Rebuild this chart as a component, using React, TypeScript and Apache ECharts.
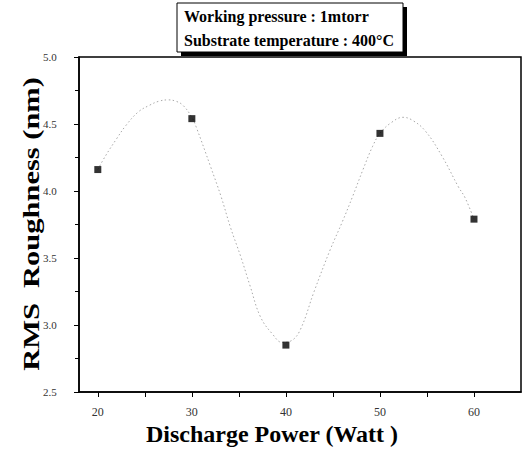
import React, { useEffect, useRef } from "react";
import * as echarts from "echarts";

const powerW = [20, 30, 40, 50, 60];
const roughnessNm = [4.16, 4.54, 2.85, 4.43, 3.79];

// fitted curve
const curveX = [20, 20.8, 22.0, 23.0, 24.3, 25.5, 26.5, 27.5, 28.3, 29.05, 30, 30.45, 32.0, 33.1, 34.1, 35.2, 36.2, 37.3, 38.6, 39.6, 40.5, 41.5, 43.0, 44.7, 46.0, 47.1, 48.2, 49.2, 50.0, 51.2, 52.45, 53.4, 54.8, 56.6, 58.35, 59.05, 60];
const curveY = [4.16, 4.26, 4.39, 4.49, 4.59, 4.64, 4.67, 4.68, 4.67, 4.64, 4.55, 4.48, 4.18, 3.96, 3.73, 3.51, 3.29, 3.06, 2.93, 2.87, 2.88, 2.96, 3.25, 3.56, 3.77, 3.96, 4.16, 4.33, 4.43, 4.51, 4.55, 4.53, 4.45, 4.26, 4.03, 3.95, 3.79];

const xLabelValues = [20, 30, 40, 50, 60];
const xTickValues = [20, 25, 30, 35, 40, 45, 50, 55, 60];
const legendLines = ["Working pressure : 1mtorr", "Substrate temperature : 400°C"];
const xTitle = "Discharge Power (Watt )";
const yTitle = "RMS  Roughness (nm)";

const SERIF = '"Liberation Serif", "Times New Roman", serif';

export default function App() {
  const ref = useRef<HTMLDivElement>(null);
  useEffect(() => {
    if (!ref.current) return;
    const chart = echarts.init(ref.current, null, { renderer: "svg" });
    chart.setOption({
      animation: false,
      backgroundColor: "#fff",
      grid: {
        left: 79,
        right: 7,
        top: 57,
        bottom: 59,
        show: true,
        borderColor: "#000",
        borderWidth: 1.5,
        backgroundColor: "transparent",
      },
      xAxis: {
        type: "value",
        min: 18,
        max: 65,
        splitLine: { show: false },
        axisLine: { show: true, lineStyle: { color: "#000", width: 1.5 } },
        axisTick: {
          show: true,
          inside: false,
          length: 5,
          customValues: xTickValues,
          lineStyle: { color: "#000" },
        },
        axisLabel: {
          customValues: xLabelValues,
          margin: 14,
          fontFamily: SERIF,
          fontSize: 12,
          color: "#333",
        },
      },
      yAxis: {
        type: "value",
        min: 2.5,
        max: 5,
        interval: 0.5,
        splitLine: { show: false },
        axisLine: { show: true, lineStyle: { color: "#000", width: 1.5 } },
        axisTick: { show: true, inside: false, length: 5, lineStyle: { color: "#000" } },
        minorTick: { show: true, splitNumber: 2, length: 4, lineStyle: { color: "#000" } },
        axisLabel: {
          margin: 36,
          align: "left",
          fontFamily: SERIF,
          fontSize: 11,
          color: "#333",
          formatter: (v: number) => v.toFixed(1),
        },
      },
      series: [
        {
          type: "line",
          data: curveX.map((x, i) => [x, curveY[i]]),
          smooth: 0.4,
          showSymbol: false,
          symbol: "none",
          lineStyle: { color: "#a8a8a8", width: 1, type: [1.5, 2.5] },
          z: 2,
        },
        {
          type: "scatter",
          data: powerW.map((x, i) => [x, roughnessNm[i]]),
          symbol: "rect",
          symbolSize: 7,
          itemStyle: { color: "#000" },
          z: 3,
        },
      ],
      graphic: [
        {
          type: "rect",
          z: 10,
          shape: { x: 181, y: 7, width: 226, height: 49 },
          style: { fill: "#000" },
        },
        {
          type: "rect",
          z: 11,
          shape: { x: 177, y: 3, width: 226, height: 49 },
          style: { fill: "#fff", stroke: "#000", lineWidth: 1 },
        },
        {
          type: "text",
          z: 12,
          x: 184,
          y: 16,
          style: {
            text: legendLines[0],
            font: `bold 16px ${SERIF}`,
            fill: "#000",
            verticalAlign: "middle",
          },
        },
        {
          type: "text",
          z: 12,
          x: 184,
          y: 40,
          style: {
            text: legendLines[1],
            font: `bold 16px ${SERIF}`,
            fill: "#000",
            verticalAlign: "middle",
          },
        },
        {
          type: "text",
          z: 12,
          x: 272,
          y: 434,
          style: {
            text: xTitle,
            font: `bold 24px ${SERIF}`,
            fill: "#000",
            align: "center",
            verticalAlign: "middle",
          },
        },
        {
          type: "text",
          z: 12,
          x: 31,
          y: 224,
          rotation: Math.PI / 2,
          scaleX: 1.27,
          style: {
            text: yTitle,
            font: `bold 24px ${SERIF}`,
            fill: "#000",
            align: "center",
            verticalAlign: "middle",
          },
        },
      ],
    });
    return () => chart.dispose();
  }, []);
  return (
    <div
      ref={ref}
      style={{ position: "absolute", left: 0, top: 0, width: 528, height: 451 }}
    />
  );
}
